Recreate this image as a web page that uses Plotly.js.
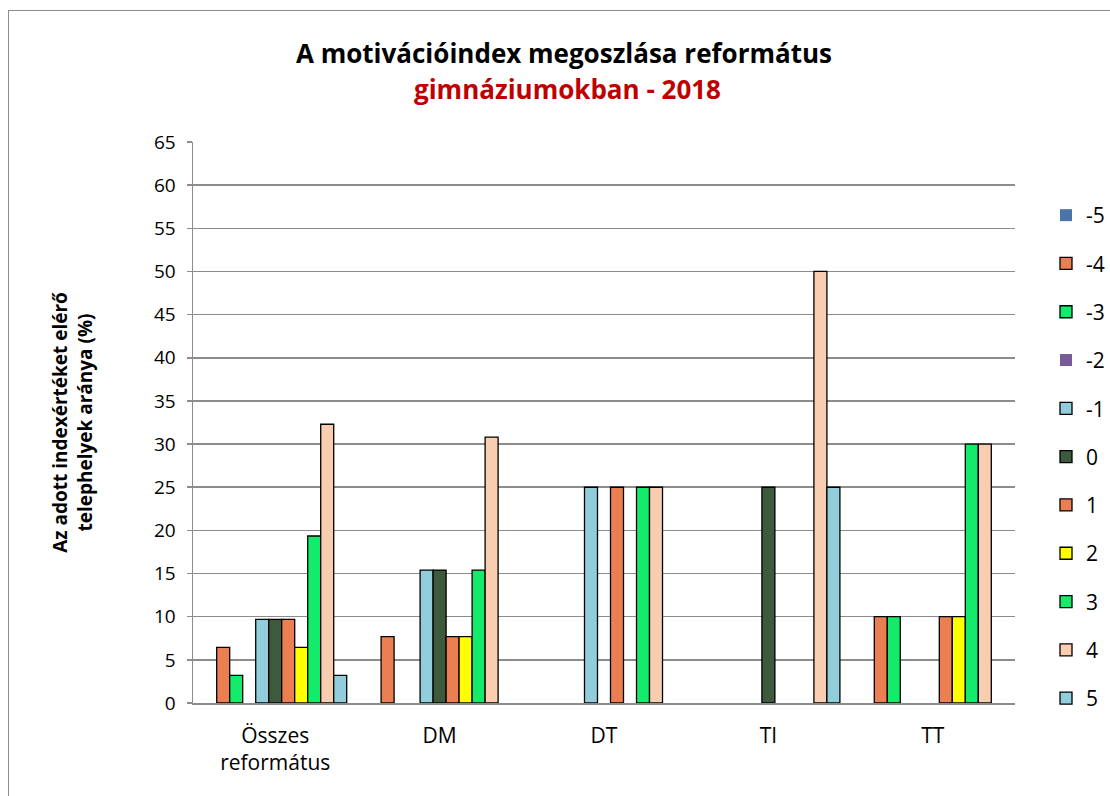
<!DOCTYPE html>
<html>
<head>
<meta charset="utf-8">
<script src="https://cdn.plot.ly/plotly-3.0.1.min.js"></script>
<style>
html,body{margin:0;padding:0;overflow:hidden;background:#fff;}
#wrap{position:relative;width:1110px;height:796px;}
#frame{position:absolute;left:8px;top:10px;width:1200px;height:900px;border:1.5px solid #8c8c8c;box-sizing:border-box;pointer-events:none;z-index:5;}
#chart{position:absolute;left:0;top:0;width:1110px;height:796px;}
</style>
</head>
<body>
<div id="wrap"><div id="frame"></div><div id="chart"></div></div>
<script>
const categories = ["Összes<br>református", "DM", "DT", "TI", "TT"];
const seriesNames = ["-5", "-4", "-3", "-2", "-1", "0", "1", "2", "3", "4", "5"];
const s_m5 = [null, null, null, null, null];
const s_m4 = [6.45, 7.7, null, null, 10];
const s_m3 = [3.2, null, null, null, 10];
const s_m2 = [null, null, null, null, null];
const s_m1 = [9.7, 15.4, 25, null, null];
const s_0  = [9.7, 15.4, null, 25, null];
const s_1  = [9.7, 7.7, 25, null, 10];
const s_2  = [6.45, 7.7, null, null, 10];
const s_3  = [19.35, 15.4, 25, null, 30];
const s_4  = [32.3, 30.8, 25, 50, 30];
const s_5  = [3.2, null, null, 25, null];
const seriesValues = [s_m5, s_m4, s_m3, s_m2, s_m1, s_0, s_1, s_2, s_3, s_4, s_5];
const titleLine1 = 'A motivációindex megoszlása református';
const titleLine2 = 'gimnáziumokban - 2018';
const yTitle = 'Az adott indexértéket elérő<br>telephelyek aránya (%)';
const colors = ["#4a74aa", "#eb7f52", "#14eb6a", "#775a96", "#92cddc", "#3e5a3d", "#eb7f52", "#ffff00", "#14eb6a", "#f8cdb0", "#92cddc"];
const outlined = [false, true, true, false, true, true, true, true, true, true, true];
const FONT = '"Open Sans", "Noto Sans", sans-serif';

const traces = seriesNames.map((n, i) => ({
  type: 'bar',
  name: n,
  x: categories,
  y: seriesValues[i],
  legendgroup: 'g' + i,
  marker: {color: colors[i], line: {color: outlined[i] ? '#000' : colors[i], width: outlined[i] ? 1.3 : 0}},
  hoverinfo: 'x+y+name'
}));

const layout = {
  width: 1110, height: 796,
  margin: {l: 193, r: 95, t: 142, b: 93, autoexpand: false},
  paper_bgcolor: 'rgba(0,0,0,0)',
  plot_bgcolor: '#fff',
  font: {family: FONT, color: '#000', size: 17},
  title: {
    text: titleLine1,
    x: 564 / 1110, xanchor: 'center', xref: 'container',
    y: 1 - 45 / 796, yanchor: 'top', yref: 'container',
    font: {size: 26, family: FONT, weight: 'bold', color: '#000'}
  },
  annotations: [{
    text: titleLine2, xref: 'paper', yref: 'paper',
    x: (567 - 193) / (1015 - 193), xanchor: 'center',
    y: (703 - 69) / (703 - 142), yanchor: 'top',
    showarrow: false,
    font: {size: 26, family: FONT, weight: 'bold', color: '#c00000'}
  }],
  barmode: 'group',
  bargap: 0.13,
  bargroupgap: 0,
  xaxis: {
    type: 'category',
    showline: true, linecolor: '#8c8c8c', linewidth: 1.5,
    showgrid: false, ticks: '', tickfont: {size: 21},
    ticklabelstandoff: 13,
    fixedrange: true
  },
  yaxis: {
    range: [0, 65], dtick: 5, tick0: 0,
    showline: true, linecolor: '#8c8c8c', linewidth: 1.5,
    showgrid: true, gridcolor: '#8c8c8c', gridwidth: 1.5,
    ticks: 'outside', ticklen: 5, tickcolor: '#8c8c8c', tickwidth: 1.5,
    ticklabelstandoff: 7,
    tickfont: {size: 19},
    zeroline: false,
    title: {text: yTitle, font: {size: 19, weight: 'bold'}, standoff: 56},
    fixedrange: true
  },
  legend: {
    x: (1046 - 193) / 822, xanchor: 'left', y: (703 - 195) / 561, yanchor: 'top',
    font: {size: 21},
    tracegroupgap: 18,
    itemwidth: 30,
    bgcolor: 'rgba(0,0,0,0)'
  },
  showlegend: true
};

Plotly.newPlot('chart', traces, layout, {displayModeBar: false, staticPlot: true});
</script>
</body>
</html>
